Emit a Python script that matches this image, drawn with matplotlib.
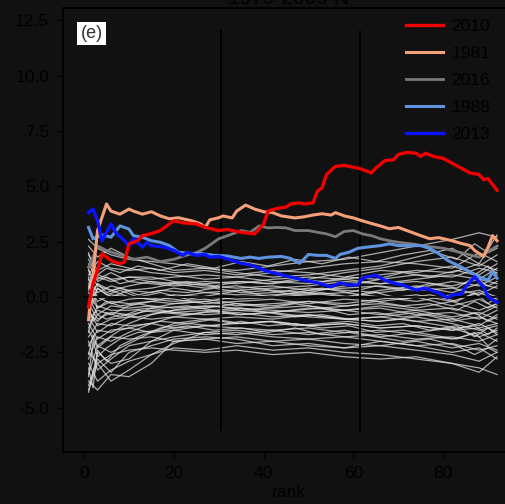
import matplotlib
matplotlib.use("Agg")
import matplotlib.pyplot as plt

# ---------------- data ----------------
red_x = [1, 2, 3, 4, 6, 8, 9, 10, 12, 13, 15, 17, 19, 20, 22, 25, 27, 30, 32, 35, 38, 40, 41, 43, 45, 46, 48, 49, 51, 52, 53, 54, 56, 58, 59, 61, 62, 64, 65, 67, 69, 70, 72, 74, 75, 76, 78, 80, 82, 84, 86, 88, 89, 90, 91, 92]
red_y = [-0.45, 0.6, 1.2, 1.96, 1.65, 1.5, 1.58, 2.4, 2.55, 2.77, 2.86, 3.0, 3.3, 3.44, 3.35, 3.3, 3.14, 3.0, 3.05, 2.92, 2.85, 3.3, 3.88, 4.0, 4.06, 4.2, 4.25, 4.2, 4.25, 4.78, 4.92, 5.53, 5.9, 5.94, 5.9, 5.82, 5.76, 5.6, 5.82, 6.16, 6.2, 6.44, 6.53, 6.49, 6.34, 6.49, 6.34, 6.26, 6.04, 5.82, 5.6, 5.53, 5.3, 5.35, 5.08, 4.82]

orange_x = [1, 2, 3, 5, 6, 8, 10, 11, 13, 15, 17, 19, 21, 24, 26, 27, 28, 30, 31, 33, 34, 36, 38, 40, 42, 44, 47, 49, 51, 53, 55, 56, 58, 60, 62, 64, 66, 68, 70, 73, 75, 77, 79, 82, 84, 86, 87, 89, 90, 91, 92]
orange_y = [-1.03, 1.0, 3.0, 4.2, 3.88, 3.74, 3.97, 3.88, 3.74, 3.85, 3.66, 3.53, 3.58, 3.44, 3.3, 3.14, 3.48, 3.58, 3.66, 3.57, 3.88, 4.15, 3.97, 3.85, 3.81, 3.66, 3.57, 3.62, 3.7, 3.76, 3.7, 3.81, 3.66, 3.57, 3.44, 3.32, 3.21, 3.08, 3.14, 2.92, 2.77, 2.63, 2.68, 2.54, 2.42, 2.32, 2.1, 1.83, 2.25, 2.77, 2.54]

gray16_x = [1, 2, 3, 5, 8, 11, 14, 17, 20, 23, 25, 27, 30, 32, 35, 37, 39, 41, 43, 45, 47, 50, 52, 54, 56, 58, 60, 62, 64, 66, 68, 70, 73, 76, 80, 84, 88, 92]
gray16_y = [1.35, 1.8, 2.3, 2.1, 1.9, 1.7, 1.8, 1.6, 1.7, 1.9, 2.0, 2.2, 2.63, 2.77, 3.0, 2.92, 3.21, 3.12, 3.14, 3.12, 3.0, 3.0, 2.92, 2.85, 2.72, 2.96, 3.0, 2.85, 2.77, 2.63, 2.54, 2.47, 2.4, 2.3, 2.2, 2.0, 1.8, 2.3]

lblue_x = [1, 2, 4, 6, 8, 10, 11, 13, 15, 17, 19, 21, 24, 26, 29, 32, 35, 37, 39, 41, 44, 46, 48, 50, 52, 54, 56, 57, 59, 61, 63, 66, 68, 70, 73, 75, 77, 79, 81, 84, 86, 88, 90, 91, 92]
lblue_y = [3.14, 2.63, 2.8, 2.7, 3.21, 3.07, 2.77, 2.7, 2.54, 2.47, 2.32, 2.02, 1.96, 1.96, 1.88, 1.85, 1.74, 1.8, 1.74, 1.8, 1.83, 1.74, 1.52, 1.92, 1.88, 1.88, 1.74, 1.92, 2.02, 2.2, 2.25, 2.32, 2.4, 2.32, 2.32, 2.32, 2.19, 1.96, 1.65, 1.35, 1.13, 0.91, 0.76, 1.13, 0.85]

blue_x = [1, 2, 3, 4, 5, 6, 7, 9, 10, 11, 13, 14, 15, 18, 20, 22, 23, 25, 27, 28, 30, 33, 35, 37, 41, 44, 46, 50, 52, 55, 57, 59, 61, 62, 63, 65, 67, 69, 71, 74, 76, 79, 81, 82, 84, 85, 87, 89, 90, 92]
blue_y = [3.81, 3.97, 3.44, 2.54, 2.92, 3.3, 2.92, 2.54, 2.32, 2.63, 2.25, 2.47, 2.32, 2.25, 2.1, 1.88, 2.02, 1.88, 1.92, 1.8, 1.83, 1.65, 1.52, 1.45, 1.15, 1.0, 0.9, 0.72, 0.64, 0.46, 0.64, 0.54, 0.54, 0.85, 0.91, 0.98, 0.76, 0.62, 0.54, 0.31, 0.4, 0.18, -0.04, 0.09, 0.13, 0.46, 0.91, 0.46, 0.01, -0.25]

# background years (thin light lines), group A sampled at these ranks
bg_x = [1, 3, 6, 10, 15, 20, 27, 34, 42, 50, 58, 66, 74, 82, 88, 92]
bg_1 = [2.6, 2.2, 1.9, 1.7, 1.6, 1.5, 1.3, 1.2, 1.4, 1.6, 1.7, 2.0, 2.3, 2.6, 2.9, 2.7]
bg_2 = [2.3, 1.8, 2.2, 1.8, 1.5, 1.2, 1.3, 1.1, 0.9, 1.0, 1.2, 1.4, 1.8, 2.2, 1.5, 2.8]
bg_3 = [1.9, 1.2, 1.5, 1.3, 1.1, 1.0, 0.8, 0.9, 1.1, 1.3, 1.5, 1.6, 1.5, 1.3, 2.0, 1.6]
bg_4 = [1.5, 0.8, 1.1, 0.7, 0.6, 0.5, 0.6, 0.7, 0.6, 0.8, 1.1, 1.3, 1.6, 1.8, 1.4, 1.9]
bg_5 = [1.2, 0.5, 0.3, 0.5, 0.7, 0.6, 0.4, 0.5, 0.3, 0.2, 0.5, 0.8, 1.0, 0.9, 1.3, 1.1]
bg_6 = [0.8, 0.2, 0.5, 0.3, 0.2, 0.4, 0.2, 0.1, 0.2, 0.4, 0.3, 0.2, 0.4, 0.7, 0.5, 0.9]
bg_7 = [0.5, -0.2, 0.1, 0.0, -0.1, 0.1, 0.0, -0.1, 0.0, 0.1, 0.2, 0.0, -0.2, 0.1, 0.3, 0.0]
bg_8 = [0.2, -0.5, -0.2, -0.3, -0.2, -0.3, -0.2, -0.4, -0.3, -0.2, -0.4, -0.3, -0.5, -0.2, -0.6, -0.3]
bg_9 = [0.0, -0.8, -0.4, -0.5, -0.4, -0.5, -0.4, -0.5, -0.6, -0.7, -0.6, -0.8, -0.6, -0.9, -0.7, -1.0]
bg_10 = [-0.3, -1.0, -0.7, -0.8, -0.6, -0.7, -0.8, -0.7, -0.9, -0.8, -1.0, -0.9, -1.1, -1.0, -1.3, -0.8]
bg_11 = [-0.6, -1.3, -1.0, -0.9, -1.0, -0.9, -1.0, -1.2, -1.1, -1.3, -1.2, -1.4, -1.3, -1.5, -1.2, -1.6]
bg_12 = [-0.9, -1.6, -1.2, -1.3, -1.2, -1.4, -1.3, -1.4, -1.5, -1.4, -1.6, -1.5, -1.7, -1.9, -1.6, -2.0]
bg_13 = [-1.2, -1.9, -1.5, -1.4, -1.6, -1.5, -1.7, -1.6, -1.8, -1.9, -1.8, -2.0, -2.2, -2.1, -2.4, -2.2]
bg_14 = [-1.5, -2.3, -1.8, -1.9, -1.8, -2.0, -1.9, -2.1, -2.0, -2.2, -2.3, -2.2, -2.4, -2.6, -2.9, -2.5]
bg_15 = [-2.5, -3.0, -2.6, -2.4, -2.3, -2.4, -2.5, -2.4, -2.6, -2.5, -2.7, -2.8, -2.7, -3.0, -3.2, -3.5]
bg_16 = [-3.0, -3.8, -3.3, -2.9, -2.6, -2.3, -2.4, -2.2, -2.4, -2.3, -2.5, -2.6, -2.8, -3.0, -3.4, -2.7]
bg_17 = [-3.8, -4.2, -3.5, -3.6, -3.0, -2.0, -1.9, -1.8, -2.0, -1.9, -2.1, -2.2, -2.0, -2.3, -2.1, -2.4]
bg_18 = [-4.2, -3.0, -3.8, -3.3, -2.6, -2.1, -1.6, -1.5, -1.7, -1.6, -1.8, -1.7, -1.9, -1.8, -2.0, -1.7]
bg_19 = [-4.3, -2.5, -3.0, -2.8, -2.0, -1.5, -1.3, -1.2, -1.1, -1.3, -1.2, -1.4, -1.3, -1.5, -1.4, -1.2]
bg_20 = [-3.5, -2.2, -2.5, -2.1, -1.6, -1.2, -1.0, -0.9, -1.0, -0.8, -1.0, -0.9, -0.7, -1.1, -0.9, -1.2]
bg_21 = [-2.8, -1.8, -2.0, -1.6, -1.2, -0.9, -0.7, -0.6, -0.7, -0.5, -0.6, -0.4, -0.6, -0.5, -0.8, -0.4]
bg_22 = [-2.2, -1.5, -1.6, -1.2, -0.8, -0.6, -0.5, -0.3, -0.4, -0.2, -0.3, -0.1, 0.1, -0.2, 0.2, -0.1]
bg_23 = [-1.8, -1.2, -1.3, -0.9, -0.5, -0.3, -0.2, 0.0, 0.1, 0.2, 0.0, 0.3, 0.5, 0.2, 0.6, 0.4]
bg_24 = [-1.0, -0.6, -0.8, -0.4, -0.2, 0.0, 0.2, 0.3, 0.4, 0.5, 0.7, 0.6, 0.8, 1.0, 0.8, 1.3]
bg_25 = [-0.5, 0.4, 0.0, 0.3, 0.4, 0.6, 0.7, 0.6, 0.8, 0.9, 0.8, 1.0, 1.2, 1.1, 1.5, 1.2]
bg_26 = [0.4, 1.0, 0.8, 0.9, 0.8, 0.9, 1.0, 0.9, 0.7, 0.6, 0.8, 0.6, 0.7, 0.5, 0.8, 0.6]
bg_27 = [1.0, 1.6, 1.3, 1.2, 1.3, 1.1, 1.2, 1.0, 1.2, 1.1, 0.9, 1.2, 1.1, 1.4, 1.0, 1.5]
bg_28 = [-0.2, 0.6, 0.3, 0.0, -0.1, -0.2, -0.1, -0.3, -0.5, -0.4, -0.6, -0.5, -0.8, -0.7, -1.0, -0.6]
bg_29 = [-1.4, -0.4, -0.6, -0.6, -0.5, -0.7, -0.6, -0.8, -0.7, -0.9, -1.0, -1.1, -0.9, -1.2, -1.5, -1.3]
bg_30 = [-2.0, -3.3, -2.8, -2.2, -2.0, -1.8, -1.6, -1.7, -1.5, -1.7, -1.5, -1.8, -1.6, -1.4, -1.8, -1.5]
bg_31 = [-4.0, -2.8, -3.4, -2.5, -2.2, -1.9, -1.8, -1.9, -2.2, -2.1, -2.3, -2.0, -2.2, -2.5, -2.3, -2.8]
bg_32 = [1.7, 0.9, 0.7, 0.9, 0.9, 0.7, 0.5, 0.4, 0.5, 0.3, 0.4, 0.5, 0.3, 0.4, 0.1, 0.5]
bg_33 = [0.6, 0.0, -0.3, -0.1, 0.0, -0.1, -0.3, -0.2, -0.1, -0.3, -0.1, -0.2, 0.0, -0.4, -0.1, -0.5]
background_a = [bg_1, bg_2, bg_3, bg_4, bg_5, bg_6, bg_7, bg_8, bg_9, bg_10, bg_11,
                bg_12, bg_13, bg_14, bg_15, bg_16, bg_17, bg_18, bg_19, bg_20, bg_21,
                bg_22, bg_23, bg_24, bg_25, bg_26, bg_27, bg_28, bg_29, bg_30, bg_31,
                bg_32, bg_33]

# background years, group B sampled at these ranks
bgb_x = [1, 2, 3, 5, 8, 12, 17, 23, 29, 35, 41, 47, 53, 59, 65, 71, 77, 83, 87, 90, 92]
bgb_1 = [0.9, -0.3, 0.4, 0.1, 0.3, 0.0, 0.2, -0.1, 0.1, 0.3, 0.0, 0.2, 0.4, 0.2, 0.5, 0.3, 0.6, 0.4, 0.9, 0.5, 0.7]
bgb_2 = [-0.8, 0.2, -0.5, -0.2, -0.4, -0.3, -0.5, -0.4, -0.6, -0.5, -0.7, -0.6, -0.5, -0.8, -0.7, -0.9, -0.8, -1.0, -0.7, -1.1, -0.9]
bgb_3 = [2.0, 1.4, 1.0, 1.3, 1.1, 1.4, 1.2, 1.5, 1.3, 1.6, 1.4, 1.7, 1.5, 1.8, 1.6, 1.9, 2.1, 1.7, 2.4, 2.0, 2.2]
bgb_4 = [-3.2, -4.1, -2.4, -2.9, -2.2, -1.8, -1.4, -1.2, -1.3, -1.1, -1.3, -1.2, -1.4, -1.3, -1.6, -1.5, -1.7, -1.9, -1.6, -2.2, -1.9]
bgb_5 = [-1.6, -0.9, -1.1, -0.7, -0.9, -0.6, -0.7, -0.5, -0.4, -0.6, -0.5, -0.3, -0.5, -0.4, -0.2, -0.4, -0.3, -0.6, -0.2, -0.5, -0.3]
bgb_6 = [0.3, 1.2, 0.7, 0.9, 0.6, 0.8, 0.6, 0.7, 0.5, 0.7, 0.6, 0.8, 0.7, 0.9, 0.8, 1.1, 0.9, 1.2, 1.0, 1.4, 1.0]
bgb_7 = [-2.6, -1.7, -2.2, -1.9, -1.5, -1.3, -1.1, -1.2, -1.0, -1.2, -1.1, -1.3, -1.2, -1.1, -1.3, -1.2, -1.5, -1.3, -1.8, -1.4, -1.7]
bgb_8 = [1.3, 0.3, 0.6, 0.2, 0.4, 0.1, 0.3, 0.2, 0.4, 0.2, 0.3, 0.1, 0.2, 0.0, 0.2, -0.1, 0.1, -0.2, 0.2, -0.3, 0.0]
bgb_9 = [-0.4, -1.1, -0.8, -1.0, -0.8, -0.9, -0.7, -0.8, -0.6, -0.8, -0.7, -0.9, -0.8, -1.0, -1.1, -1.0, -1.2, -1.4, -1.3, -1.7, -1.4]
bgb_10 = [-3.6, -2.0, -2.7, -2.3, -1.9, -1.6, -1.5, -1.3, -1.5, -1.4, -1.6, -1.4, -1.7, -1.6, -1.8, -2.0, -1.9, -2.2, -2.6, -2.3, -2.5]
background_b = [bgb_1, bgb_2, bgb_3, bgb_4, bgb_5, bgb_6, bgb_7, bgb_8, bgb_9, bgb_10]

vlines_x = [30.5, 61.5]
yticks = [-5.0, -2.5, 0.0, 2.5, 5.0, 7.5, 10.0, 12.5]
xticks = [0, 20, 40, 60, 80]

# ---------------- style ----------------
BG = "#111111"
INK = "#000000"
plt.rcParams["font.family"] = ["Liberation Sans", "DejaVu Sans"]
plt.rcParams["font.size"] = 12.5
plt.rcParams["text.color"] = INK
plt.rcParams["axes.labelcolor"] = INK
plt.rcParams["xtick.color"] = INK
plt.rcParams["ytick.color"] = INK
plt.rcParams["xtick.labelcolor"] = INK
plt.rcParams["ytick.labelcolor"] = INK
plt.rcParams["axes.edgecolor"] = INK

fig = plt.figure(figsize=(5.06, 5.04), dpi=100, facecolor=BG)
ax = fig.add_axes([63 / 506, 1 - 452 / 504, (515 - 63) / 506, (452 - 8) / 504])
ax.set_facecolor(BG)

for ys in background_a:
    ax.plot(bg_x, ys, color="#e0e0e0", lw=0.9, alpha=0.75, zorder=2)
for ys in background_b:
    ax.plot(bgb_x, ys, color="#e0e0e0", lw=0.9, alpha=0.75, zorder=2)

ax.plot([0, 92], [0, 0], color=INK, lw=1.2, zorder=3)
for vx in vlines_x:
    ax.plot([vx, vx], [-6.0, 12.0], color=INK, lw=1.3, zorder=3)

l16, = ax.plot(gray16_x, gray16_y, color="#7a7a7a", lw=2.0, zorder=4, label="2016")
l88, = ax.plot(lblue_x, lblue_y, color="#5f93e0", lw=2.2, zorder=5, label="1988")
l81, = ax.plot(orange_x, orange_y, color="#f4a07a", lw=2.2, zorder=5, label="1981")
l13, = ax.plot(blue_x, blue_y, color="#0a14ff", lw=2.4, zorder=6, label="2013")
l10, = ax.plot(red_x, red_y, color="#f00000", lw=2.4, zorder=7, label="2010")

ax.set_xlim(-4.69, 96)
ax.set_ylim(-7.0, 13.05)
ax.set_xticks(xticks)
ax.set_yticks(yticks)
ax.set_yticklabels([f"{v:.1f}" for v in yticks])
ax.tick_params(colors=INK, labelcolor=INK, direction="out", length=4, width=1, pad=6)
for s in ax.spines.values():
    s.set_color(INK)
    s.set_linewidth(1.2)
ax.set_xlabel("rank", color=INK, labelpad=3)
ax.set_title("1979-2009 N", color=INK, pad=3)

ax.text(0.039, 0.962, "(e)", transform=ax.transAxes, va="top", ha="left",
        color="#333333", fontsize=13,
        bbox=dict(facecolor="white", edgecolor="none", pad=2.4), zorder=8)

leg = ax.legend(handles=[l10, l81, l16, l88, l13], loc="upper left",
                bbox_to_anchor=(406 / 506, 1 - 19 / 504), bbox_transform=fig.transFigure,
                frameon=False, handlelength=2.15, handletextpad=0.45,
                labelspacing=0.68, borderpad=0, borderaxespad=0)
for t in leg.get_texts():
    t.set_color(INK)

fig.savefig("out.png", dpi=100, facecolor=BG)
